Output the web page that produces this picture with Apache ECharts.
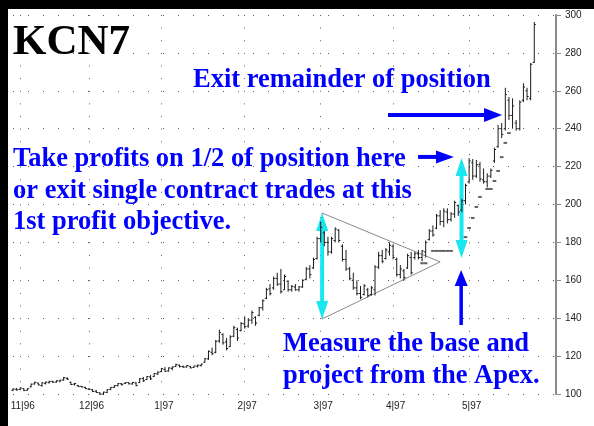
<!DOCTYPE html>
<html>
<head>
<meta charset="utf-8">
<title>KCN7</title>
<script src="https://cdn.jsdelivr.net/npm/echarts@6/dist/echarts.min.js"></script>
<style>
  html, body { margin: 0; padding: 0; background: #fff; }
  #chart { width: 594px; height: 426px; }
</style>
</head>
<body>
<div id="chart"></div>
<script>
// months on the time axis and how many daily slots each takes
const months = ['10|96', '11|96', '12|96', '1|97', '2|97', '3|97', '4|97', '5|97']
const monthSlots = [2, 19, 20, 23, 21, 20, 21, 25]

// daily bars, one per slot from the first day
const open = [
  102.0, 102.5, 102.4, 102.8, 102.0, 103.8, 105.3, 105.8, 104.5, 105.6,
  106.0, 106.7, 106.3, 106.8, 107.4, 108.3, 106.2, 105.2, 104.5, 104.0,
  103.5, 102.6, 102.2, 101.5, 100.6, 100.0, 100.8, 102.4, 103.5, 104.4,
  105.4, 105.5, 106.0, 105.3, 105.8, 106.0, 108.2, 107.6, 109.0, 109.3,
  110.6, 111.8, 113.0, 112.2, 113.5, 114.5, 115.2, 114.5, 114.2, 114.6,
  114.0, 114.6, 115.0, 116.8, 118.5, 122.0, 122.0, 128.0, 131.5, 127.5,
  125.0, 130.5, 134.0, 133.5, 137.0, 135.8, 139.0, 140.5, 141.5, 145.5,
  150.5, 155.5, 156.0, 161.0, 158.0, 155.0, 159.5, 155.0, 156.5, 155.0,
  156.5, 160.5, 166.0, 166.5, 171.5, 182.0, 185.0, 180.0, 175.0, 181.0,
  186.5, 178.0, 171.0, 166.0, 160.0, 156.0, 153.0, 152.5, 155.0, 152.5,
  155.0, 167.0, 173.0, 171.5, 175.0, 178.0, 171.0, 163.0, 165.0, 166.5,
  172.0, 172.0, 174.0, 172.0, 175.0, 181.5, 186.0, 187.5, 194.0, 191.0,
  196.0, 192.0, 195.0, 199.5, 197.0, 202.0, 212.0, 222.0, 215.0, 221.0,
  213.0, 212.0, 215.0, 223.0, 230.5, 240.0, 240.0, 255.0, 247.0, 243.0,
  240.0, 255.0, 260.0, 256.0, 275.0
]
const high = [
  103.0, 103.2, 103.5, 103.0, 103.0, 105.5, 106.5, 106.0, 106.2, 106.5,
  107.0, 107.0, 107.2, 107.5, 109.0, 108.8, 106.5, 105.8, 104.8, 104.3,
  103.8, 103.2, 102.6, 102.1, 101.0, 101.2, 102.6, 103.7, 104.7, 105.8,
  105.8, 106.3, 106.3, 106.3, 106.3, 108.4, 109.0, 109.5, 110.0, 111.0,
  112.0, 113.7, 114.2, 114.0, 114.5, 116.0, 115.5, 115.0, 115.2, 114.8,
  115.0, 115.5, 116.0, 119.0, 123.0, 124.5, 128.5, 134.0, 132.0, 129.5,
  131.0, 136.0, 135.0, 138.0, 141.0, 140.0, 144.0, 141.0, 146.0, 150.0,
  156.0, 158.0, 162.0, 164.0, 166.0, 163.0, 160.0, 157.5, 158.0, 157.0,
  160.5, 167.0, 168.0, 172.0, 183.0, 191.0, 186.0, 183.0, 183.0, 188.0,
  187.0, 179.0, 176.0, 167.0, 164.0, 160.0, 157.0, 158.0, 156.0, 157.0,
  168.0, 175.0, 176.0, 177.0, 180.0, 179.0, 172.0, 168.0, 166.0, 174.0,
  175.0, 175.0, 176.0, 176.0, 181.0, 187.0, 189.0, 195.0, 197.0, 198.0,
  198.0, 196.0, 202.0, 200.0, 203.0, 211.0, 224.5, 224.0, 223.5, 222.5,
  219.0, 216.5, 219.0, 230.0, 242.0, 243.0, 261.6, 256.7, 256.0, 244.6,
  255.0, 264.0, 261.6, 274.7, 296.3
]
const low = [
  101.5, 101.8, 102.0, 101.5, 101.8, 103.5, 105.0, 104.5, 103.8, 105.0,
  105.5, 105.8, 106.0, 106.2, 107.0, 107.4, 104.7, 104.5, 103.7, 103.5,
  102.6, 102.1, 101.0, 100.5, 99.5, 99.7, 100.5, 102.0, 103.2, 104.0,
  104.5, 105.3, 105.0, 105.0, 104.0, 105.8, 106.3, 107.4, 107.4, 109.0,
  110.0, 111.6, 111.6, 111.8, 112.5, 114.2, 114.0, 113.8, 114.0, 113.5,
  113.8, 114.0, 114.5, 116.5, 118.0, 120.5, 121.5, 127.0, 126.0, 123.0,
  124.8, 130.0, 128.0, 133.0, 134.5, 135.0, 137.0, 136.0, 141.0, 144.0,
  150.0, 152.0, 155.0, 157.0, 153.0, 155.0, 154.0, 154.0, 154.5, 154.0,
  156.0, 160.0, 161.0, 166.0, 171.0, 180.0, 178.0, 173.0, 174.0, 180.0,
  180.0, 170.0, 165.0, 160.0, 155.0, 152.0, 150.0, 152.0, 151.0, 152.0,
  152.0, 166.0, 169.0, 171.0, 173.0, 171.0, 162.0, 161.0, 160.0, 166.0,
  163.0, 171.0, 171.0, 170.0, 172.0, 181.0, 183.0, 187.0, 189.0, 188.0,
  190.0, 191.0, 193.0, 194.0, 196.0, 200.0, 211.0, 213.0, 214.0, 212.0,
  211.0, 209.0, 214.0, 222.0, 230.0, 235.0, 239.0, 244.6, 240.0, 239.0,
  239.0, 254.0, 255.0, 255.0, 274.7
]
const close = [
  102.6, 102.2, 103.2, 101.9, 102.8, 105.2, 106.2, 104.8, 105.9, 106.3,
  106.6, 106.2, 107.0, 107.3, 108.6, 107.8, 105.0, 105.5, 103.9, 103.7,
  102.8, 102.4, 101.3, 100.8, 99.9, 101.0, 102.3, 103.5, 104.4, 105.5,
  104.9, 106.0, 105.4, 106.1, 104.5, 108.0, 107.0, 109.2, 108.0, 110.8,
  111.5, 113.4, 112.0, 113.8, 114.2, 115.6, 114.5, 114.2, 115.0, 113.8,
  114.8, 115.2, 115.8, 118.6, 122.5, 121.2, 127.8, 132.5, 127.0, 124.0,
  130.2, 135.0, 129.5, 137.2, 135.5, 139.0, 143.0, 137.5, 145.5, 149.2,
  155.0, 153.0, 161.0, 158.0, 154.0, 162.0, 155.0, 156.8, 155.0, 156.5,
  160.0, 166.0, 163.0, 171.0, 182.0, 188.0, 180.0, 175.0, 182.0, 187.0,
  181.0, 171.0, 166.0, 161.0, 156.0, 153.0, 151.0, 157.0, 152.0, 156.0,
  167.0, 173.0, 170.0, 176.0, 178.5, 172.0, 163.0, 166.0, 161.5, 173.0,
  164.0, 174.0, 172.0, 175.5, 180.0, 186.0, 184.0, 194.0, 191.0, 196.5,
  192.0, 195.0, 201.0, 196.0, 202.0, 210.0, 223.0, 215.0, 221.0, 213.5,
  212.0, 215.0, 218.0, 229.0, 240.0, 237.0, 258.0, 247.0, 252.0, 240.0,
  254.0, 262.0, 257.0, 274.0, 295.0
]

// trailing stop dashes, first one at slot stopStart
const stopStart = 113
const stops = [
  169, 169, null, 175.5, 175.5, 175.5, 175.5, 175.5, 175.5, null,
  null, null, 182.8, 187.6, 192.9, 198.7, 204.0, null, 208.2, 208.2,
  212.4, 217.7, 225.0, 232.5, 237.7
]

const yMin = 100
const yMax = 300
const yStep = 20

// chart drawings, in (slot, price)
const triangle = [[85.4, 195.5], [118.0, 169.7], [85.4, 139.6]]
const baseArrow = [[85.4, 139.6], [85.4, 195.5]]
const projArrow = [[123.9, 171.8], [123.9, 224.5]]
const apexArrow = [[123.8, 136.4], [123.8, 165.4]]
const hereArrow = [[111.9, 225.1], [121.8, 225.1]]
const exitArrow = [[103.6, 247.2], [135.1, 247.2]]

const notes = [
  { text: 'KCN7', x: 13, base: 57, size: 43, color: '#000' },
  { text: 'Exit remainder of position', x: 193, base: 88.5, size: 26.5, color: '#0000ff' },
  { text: 'Take profits on 1/2 of position here', x: 13, base: 168, size: 26.5, color: '#0000ff' },
  { text: 'or exit single contract trades at this', x: 13, base: 200, size: 26.5, color: '#0000ff' },
  { text: '1st profit objective.', x: 13, base: 231, size: 26.5, color: '#0000ff' },
  { text: 'Measure the base and', x: 283, base: 353, size: 26.5, color: '#0000ff' },
  { text: 'project from the Apex.', x: 283, base: 385, size: 26.5, color: '#0000ff' }
]

const days = []
months.forEach((m, k) => {
  for (let d = 0; d < monthSlots[k]; d++) days.push(m + '#' + d)
})
const isMonthStart = (i, v) => i > 0 && v.endsWith('#0')

const bars = open.map((o, i) => [i, o, high[i], low[i], close[i]])
const stopData = stops
  .map((v, k) => [stopStart + k, v])
  .filter(d => d[1] != null)

function renderBar (params, api) {
  const i = api.value(0)
  const hi = api.coord([i, api.value(2)])
  const lo = api.coord([i, api.value(3)])
  const op = api.coord([i, api.value(1)])
  const cl = api.coord([i, api.value(4)])
  const x = hi[0]
  const style = { stroke: '#1a1a1a', lineWidth: 1 }
  return {
    type: 'group',
    children: [
      { type: 'line', shape: { x1: x, y1: hi[1], x2: x, y2: lo[1] }, style },
      { type: 'line', shape: { x1: x - 1.6, y1: op[1], x2: x, y2: op[1] }, style },
      { type: 'line', shape: { x1: x, y1: cl[1], x2: x + 1.6, y2: cl[1] }, style }
    ]
  }
}

const dotGray = '#5a5a5a'
const myChart = echarts.init(document.getElementById('chart'))
myChart.setOption({
  animation: false,
  backgroundColor: '#fff',
  grid: { left: 13, right: 38, top: 15, bottom: 32 },
  xAxis: {
    type: 'category',
    data: days,
    boundaryGap: false,
    axisLine: { show: false },
    axisTick: { show: false },
    axisLabel: {
      interval: isMonthStart,
      formatter: v => v.split('#')[0],
      fontFamily: 'Liberation Sans',
      fontSize: 10,
      color: '#222',
      margin: 7,
      padding: [0, 0, 0, 5]
    },
    splitLine: {
      show: true,
      interval: isMonthStart,
      lineStyle: { color: dotGray, width: 1, type: [1, 11.63] }
    }
  },
  yAxis: {
    type: 'value',
    position: 'right',
    min: yMin,
    max: yMax,
    interval: yStep,
    axisLine: { show: true, lineStyle: { color: '#8a8a8a', width: 2 } },
    axisTick: { show: true, length: 5, lineStyle: { color: '#8a8a8a', width: 1 } },
    axisLabel: {
      fontFamily: 'Liberation Sans',
      fontSize: 10,
      color: '#222',
      margin: 9
    },
    splitLine: {
      show: true,
      lineStyle: { color: dotGray, width: 1, type: [1, 14] }
    }
  },
  series: [
    {
      type: 'custom',
      renderItem: renderBar,
      data: bars,
      encode: { x: 0, y: [1, 2, 3, 4] },
      z: 3
    },
    {
      type: 'scatter',
      data: stopData,
      symbol: 'rect',
      symbolSize: [3.6, 2],
      itemStyle: { color: '#3a3a3a' },
      z: 4
    }
  ]
})

// pixel position of a (slot, price) point, slot may be fractional
function px (p) {
  const i0 = Math.floor(p[0])
  const f = p[0] - i0
  const a = myChart.convertToPixel({ gridIndex: 0 }, [i0, p[1]])
  const b = myChart.convertToPixel({ gridIndex: 0 }, [i0 + 1, p[1]])
  return [a[0] + (b[0] - a[0]) * f, a[1]]
}

function head (tip, ux, uy, len, half, color) {
  const bx = tip[0] - ux * len
  const by = tip[1] - uy * len
  return {
    type: 'polygon',
    shape: { points: [tip, [bx - uy * half, by + ux * half], [bx + uy * half, by - ux * half]] },
    style: { fill: color }
  }
}

function arrow (seg, color, width, len, half, both) {
  const a = px(seg[0])
  const b = px(seg[1])
  const d = Math.hypot(b[0] - a[0], b[1] - a[1])
  const ux = (b[0] - a[0]) / d
  const uy = (b[1] - a[1]) / d
  const start = both ? [a[0] + ux * (len - 2), a[1] + uy * (len - 2)] : a
  const end = [b[0] - ux * (len - 2), b[1] - uy * (len - 2)]
  const out = [
    { type: 'line', shape: { x1: start[0], y1: start[1], x2: end[0], y2: end[1] }, style: { stroke: color, lineWidth: width } },
    head(b, ux, uy, len, half, color)
  ]
  if (both) out.push(head(a, -ux, -uy, len, half, color))
  return out
}

const cyan = '#19e6ee'
const blue = '#0000ff'
const graphics = [
  { type: 'rect', shape: { x: 0, y: 0, width: 594, height: 9 }, style: { fill: '#000' } },
  { type: 'rect', shape: { x: 0, y: 0, width: 8, height: 426 }, style: { fill: '#000' } },
  {
    type: 'polygon',
    shape: { points: triangle.map(px) },
    style: { fill: 'none', stroke: '#8a8a8a', lineWidth: 1 }
  },
  ...arrow(baseArrow, cyan, 4, 18, 6, true),
  ...arrow(projArrow, cyan, 4, 18, 6, true),
  ...arrow(apexArrow, blue, 3.5, 16, 6.5, false),
  ...arrow(hereArrow, blue, 4, 18, 6.5, false),
  ...arrow(exitArrow, blue, 4, 18, 7, false),
  ...notes.map(n => ({
    type: 'text',
    x: n.x,
    y: n.base - 0.32 * n.size,
    style: {
      text: n.text,
      fill: n.color,
      font: 'bold ' + n.size + 'px "Liberation Serif"',
      align: 'left',
      verticalAlign: 'middle'
    }
  }))
]
myChart.setOption({ graphic: graphics })
</script>
</body>
</html>
